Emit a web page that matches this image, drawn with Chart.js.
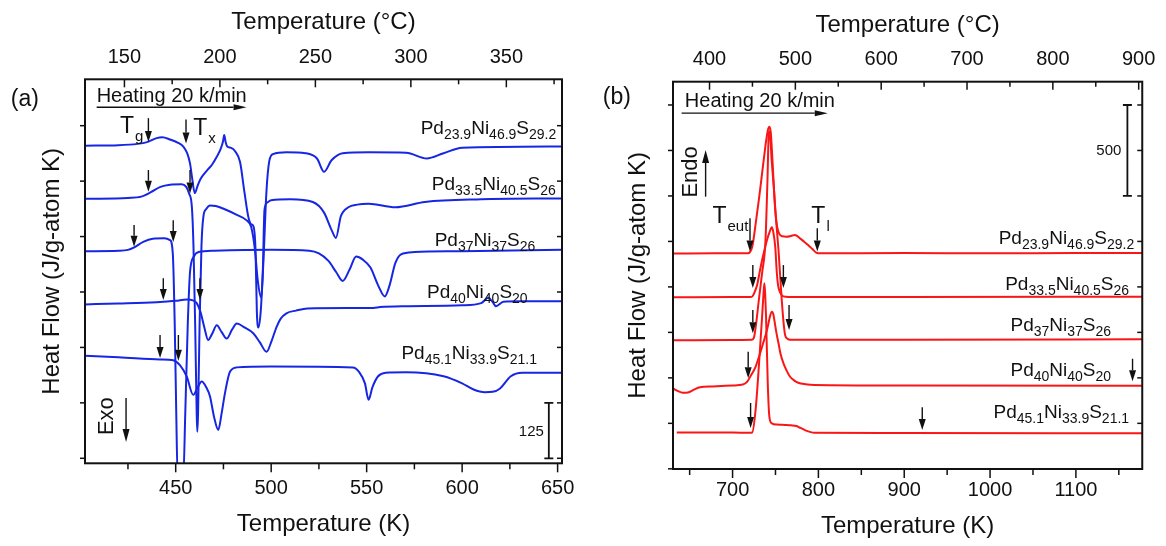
<!DOCTYPE html>
<html>
<meta charset="utf-8">
<style>
	html, body { margin: 0; padding: 0; background: #fff; overflow: hidden; }
	canvas { position: absolute; top: 0; }
	#chartA { left: 0; }
	#chartB { left: 583px; }
</style>
<script src="https://cdn.jsdelivr.net/npm/chart.js"></script>
<body>
<canvas id="chartA" width="600" height="546"></canvas>
<canvas id="chartB" width="583" height="546"></canvas>
<script>

	// ---------- panel (a): DSC traces, 400-650 K (heat flow, J/g-atom K)
	var aK1 = [402.5, 420, 430, 435, 440, 443, 447, 451, 454, 456, 457.5, 458.5, 460, 461.5, 463, 465, 467, 469, 471.5, 473.5, 474.8, 475.4, 476.2, 477, 479, 481, 483.7, 486, 488, 489.5, 490.8, 491.8, 492.5, 493.3, 494.5, 496, 497.5, 499, 501, 508, 518, 524, 527.7, 531.6, 537.5, 551, 570.7, 581.5, 590.3, 600, 652.3];
	var aV1 = [705, 706, 709, 713, 722, 724, 719, 712, 703, 688, 665, 635, 598, 615, 630, 642, 652, 662, 680, 697, 715, 729, 712, 703, 700, 693, 668, 600, 545, 528, 522, 470, 330, 295, 330, 450, 600, 670, 686, 690, 688, 676, 646, 672, 688, 690, 689, 676, 688, 700, 703];

	var aK2 = [402.5, 425, 432, 437, 442, 447, 453, 455.5, 457, 458.5, 459.3, 460.2, 461, 461.3, 461.7, 462.5, 463.5, 464.5, 466, 468, 471, 476, 482, 487, 489.5, 491.5, 493, 494.8, 495.6, 496.5, 498, 500, 510, 521.8, 527.7, 531.6, 533.9, 536.5, 540.4, 545, 551, 565, 580.5, 610, 652.3];
	var aV2 = [585, 587, 590, 600, 612, 617, 618, 612, 597, 565, 480, 300, 100, 60, 100, 300, 480, 545, 562, 570, 569, 561, 549, 537, 522, 470, 400, 362, 420, 560, 577, 582, 584, 578, 554, 515, 497, 546, 566, 572, 574, 566, 578, 584, 586];

	var aK3 = [402.5, 420, 425, 428, 433, 438, 444, 447, 448.5, 449.5, 450.3, 451, 454, 455, 456.3, 457.5, 459.5, 462, 470, 500, 520, 525, 530, 534, 537.5, 541, 544.5, 548, 552, 556, 559.5, 562, 565, 568, 575, 600, 652.3];
	var aV3 = [467, 468, 470, 475, 488, 495, 496, 492, 460, 300, 100, -40, -40, 100, 300, 420, 455, 465, 468, 470, 468, 462, 445, 420, 400, 425, 455, 448, 430, 390, 365, 390, 440, 460, 465, 467, 470];

	var aK4 = [402.5, 420, 440, 450, 455.8, 459, 461, 463, 465, 467, 469, 471.5, 474, 476.7, 479.5, 482, 486, 490.6, 494, 497.6, 500, 502.9, 505, 508, 513, 519, 540, 553.5, 557, 570, 600, 610, 613.8, 616, 617.7, 621.6, 630, 652.3];
	var aV4 = [347, 349, 352, 355, 358, 356, 350, 330, 295, 267, 280, 300, 285, 270, 290, 304, 295, 282, 262, 240, 262, 297, 315, 327, 333, 338, 339, 339, 341, 343, 345, 350, 362, 352, 343, 353, 354, 354];

	var aK5 = [402.5, 420, 441.8, 448.7, 452.2, 455.8, 459.2, 461.5, 463.6, 466, 468, 470, 472.3, 474, 475.8, 478.4, 482, 500, 542.8, 546, 549.1, 551, 553, 556, 560, 570.7, 590.3, 600, 606, 611.8, 616, 619.7, 625.5, 631.4, 652.3];
	var aV5 = [231, 228, 223, 221, 210, 184, 143, 160, 173, 160, 139, 95, 64, 100, 147, 195, 205, 207, 205, 195, 169, 132, 160, 185, 193, 194, 185, 169, 155, 149, 150, 157, 185, 193, 193];

	var aKTicks = [450, 500, 550, 600, 650];
	var aKMinor = [425, 475, 525, 575, 625];
	var aCTicks = [150, 200, 250, 300, 350];
	var aCMinor = [175, 225, 275, 325, 375];
	var aVTicks = [0, 125, 250, 375, 500, 625, 750];

	// ---------- panel (b): DSC traces, 630-1180 K
	var bK1 = [630.6, 680, 718, 720, 723, 727, 730.6, 733.5, 736.3, 739, 741.2, 742.9, 744.5, 746.2, 748, 749.7, 751.6, 754, 758, 763, 768, 772.7, 778.5, 783, 788, 793, 797.5, 800, 900, 1000, 1100, 1177.3];
	var bV1 = [1183, 1185, 1185, 1190, 1222, 1350, 1478, 1590, 1698, 1800, 1863, 1881, 1850, 1720, 1560, 1423, 1340, 1295, 1278, 1276, 1280, 1285, 1267, 1250, 1230, 1208, 1188, 1185, 1186, 1185, 1186, 1186];

	var bK2 = [630.6, 700, 721, 723.5, 726, 728.6, 731.5, 734.4, 737.3, 740.1, 743, 745.8, 747.5, 749.7, 751.6, 753, 754.3, 756.5, 759.3, 765, 900, 1177.3];
	var bV2 = [943, 944, 945, 950, 975, 1010, 1080, 1148, 1205, 1258, 1300, 1328, 1300, 1221, 1075, 1010, 983, 960, 948, 945, 945, 946];

	var bK3 = [630.6, 700, 722, 724.8, 727.5, 730.6, 734.5, 738.3, 740.5, 742.3, 743.3, 745.5, 748, 750.5, 753.5, 757.3, 759.5, 761.2, 764, 767, 900, 1177.3];
	var bV3 = [707, 708, 709, 720, 800, 928, 1080, 1250, 1560, 1850, 1855, 1700, 1550, 1380, 1203, 928, 800, 736, 715, 710, 710, 712];

	var bK4 = [630.6, 636, 642, 648, 655, 662, 677, 700, 712, 717.1, 721, 726.8, 730.5, 734.4, 740.1, 744, 745.8, 747.5, 749, 751, 753.5, 756, 759.3, 763, 767, 772, 776.5, 785, 795.7, 900, 1177.3];
	var bV4 = [442, 428, 418, 420, 435, 448, 453, 458, 463, 479, 510, 561, 612, 671, 763, 845, 864, 850, 809, 750, 690, 630, 580, 540, 506, 485, 473, 465, 461, 458, 456];

	var bK5 = [635, 700, 719, 722.9, 726.8, 730.6, 734.4, 736, 737.1, 738, 739, 741, 742.9, 745.8, 752, 761.2, 768, 774.5, 779, 784.2, 790, 795.7, 900, 1177.3];
	var bV5 = [199, 199, 198, 200, 323, 561, 836, 960, 1020, 960, 836, 470, 286, 250, 243, 241, 239, 235, 225, 213, 203, 198, 197, 195];

	var bKTicks = [700, 800, 900, 1000, 1100];
	var bKMinor = [650, 750, 850, 950, 1050, 1150];
	var bCTicks = [400, 500, 600, 700, 800, 900];
	var bCMinor = [450, 550, 650, 750, 850];
	var bVTicks = [0, 250, 500, 750, 1000, 1250, 1500, 1750, 2000];

	// alloy names: main text and subscripts alternate
	var alloys = [
		['Pd', '23.9', 'Ni', '46.9', 'S', '29.2'],
		['Pd', '33.5', 'Ni', '40.5', 'S', '26'],
		['Pd', '37', 'Ni', '37', 'S', '26'],
		['Pd', '40', 'Ni', '40', 'S', '20'],
		['Pd', '45.1', 'Ni', '33.9', 'S', '21.1']
	];

	// annotation anchors (K, heat flow)
	var aNameK = [649.3, 649, 638.3, 634.3, 639.2];
	var aNameV = [731, 605, 479, 362, 224];
	var aArrowK = [435.7, 455.4, 435.7, 457.5, 428.2, 448.7, 443.5, 462.7, 441.8, 451.4];
	var aArrowTop = [767, 764, 650, 650, 526, 537, 406, 406, 278, 278];
	var aArrowTip = [713, 710, 601, 597, 477, 488, 357, 357, 226, 220];

	var bNameK = [1168, 1162, 1141, 1141, 1162];
	var bNameV = [1236, 984, 758, 510, 281];
	var bArrowK = [720.3, 798.7, 723.6, 759.2, 723.6, 765.8, 718.2, 1166, 721, 921];
	var bArrowTop = [1377, 1322, 1120, 1120, 873, 900, 644, 605, 362, 338];
	var bArrowTip = [1194, 1194, 994, 994, 745, 763, 498, 481, 224, 214];

	var FONT = "'Liberation Sans', Arial, Helvetica, sans-serif";
	var INK = '#111111';

	function arrowV(ctx, x, y0, y1, hl, hw) {
		var d = y1 > y0 ? 1 : -1;
		ctx.beginPath(); ctx.moveTo(x, y0); ctx.lineTo(x, y1 - d * hl); ctx.stroke();
		ctx.beginPath(); ctx.moveTo(x, y1); ctx.lineTo(x - hw / 2, y1 - d * hl); ctx.lineTo(x + hw / 2, y1 - d * hl);
		ctx.closePath(); ctx.fill();
	}
	function arrowH(ctx, x0, x1, y, hl, hw) {
		ctx.beginPath(); ctx.moveTo(x0, y); ctx.lineTo(x1 - hl, y); ctx.stroke();
		ctx.beginPath(); ctx.moveTo(x1, y); ctx.lineTo(x1 - hl, y - hw / 2); ctx.lineTo(x1 - hl, y + hw / 2);
		ctx.closePath(); ctx.fill();
	}
	// right-aligned formula with subscripts
	function chem(ctx, parts, xr, yb) {
		var w = 0, i;
		for (i = 0; i < parts.length; i++) {
			ctx.font = (i % 2 ? '14px ' : '19px ') + FONT;
			w += ctx.measureText(parts[i]).width;
		}
		var x = xr - w;
		for (i = 0; i < parts.length; i++) {
			ctx.font = (i % 2 ? '14px ' : '19px ') + FONT;
			ctx.fillText(parts[i], x, yb + (i % 2 ? 5 : 0));
			x += ctx.measureText(parts[i]).width;
		}
	}
	function tLabel(ctx, sub, x, yb) {
		ctx.font = '23px ' + FONT;
		ctx.fillText('T', x, yb);
		var w = ctx.measureText('T').width;
		ctx.font = '15px ' + FONT;
		ctx.fillText(sub, x + w + 1, yb + 8);
	}

	function notesPlugin(n) {
		return {
			id: 'notes',
			afterDatasetsDraw: function (chart) {
				var ctx = chart.ctx, xs = chart.scales.x, ys = chart.scales.y;
				var X = function (k) { return xs.getPixelForValue(k); };
				var Y = function (v) { return ys.getPixelForValue(v); };
				var i;
				ctx.save();
				ctx.fillStyle = INK; ctx.strokeStyle = INK; ctx.lineWidth = 1.4;

				ctx.font = '23px ' + FONT; ctx.textAlign = 'center'; ctx.textBaseline = 'middle';
				ctx.fillText(n.letter, X(n.letterAt[0]), Y(n.letterAt[1]));

				// rotated Exo / Endo
				ctx.save();
				ctx.translate(X(n.sideAt[0]), Y(n.sideAt[1]));
				ctx.rotate(-Math.PI / 2);
				ctx.font = '22px ' + FONT;
				ctx.fillText(n.side, 0, 0);
				ctx.restore();
				arrowV(ctx, X(n.sideArrow[0]), Y(n.sideArrow[1]), Y(n.sideArrow[2]), 13, 7);

				// scale bar
				var bx = X(n.bar[0]), b0 = Y(n.bar[1]), b1 = Y(n.bar[2]);
				ctx.lineWidth = 1.8;
				ctx.beginPath();
				ctx.moveTo(bx, b0); ctx.lineTo(bx, b1);
				ctx.moveTo(bx - 4.5, b0); ctx.lineTo(bx + 4.5, b0);
				ctx.moveTo(bx - 4.5, b1); ctx.lineTo(bx + 4.5, b1);
				ctx.stroke();
				ctx.lineWidth = 1.4;
				ctx.font = '15px ' + FONT; ctx.textAlign = 'right';
				ctx.fillText(n.barText, X(n.barTextAt[0]), Y(n.barTextAt[1]));

				ctx.textAlign = 'left'; ctx.textBaseline = 'alphabetic';
				ctx.font = '20px ' + FONT;
				ctx.fillText('Heating 20 k/min', X(n.heatAt[0]), Y(n.heatAt[1]));
				arrowH(ctx, X(n.heatArrow[0]), X(n.heatArrow[1]), Y(n.heatArrow[2]), 13, 6);

				n.tLabels.forEach(function (t) { tLabel(ctx, t[0], X(t[1]), Y(t[2])); });

				for (i = 0; i < n.arrowK.length; i++) {
					arrowV(ctx, X(n.arrowK[i]), Y(n.arrowTop[i]), Y(n.arrowTip[i]), 11, 7);
				}
				for (i = 0; i < alloys.length; i++) {
					chem(ctx, alloys[i], X(n.nameK[i]), Y(n.nameV[i]));
				}
				ctx.restore();
			}
		};
	}

	function framePlugin(p) {
		return {
			id: 'frame',
			afterDraw: function (chart) {
				var ctx = chart.ctx, a = chart.chartArea;
				var xs = chart.scales.x, cs = chart.scales.c, ys = chart.scales.y;
				function seg(x1, y1, x2, y2) { ctx.beginPath(); ctx.moveTo(x1, y1); ctx.lineTo(x2, y2); ctx.stroke(); }
				ctx.save();
				ctx.strokeStyle = INK;
				ctx.lineWidth = 2;
				ctx.strokeRect(a.left, a.top, a.right - a.left, a.bottom - a.top);
				ctx.lineWidth = 1.5;
				p.kTicks.forEach(function (k) { var x = xs.getPixelForValue(k); seg(x, a.bottom, x, a.bottom + 9); });
				p.kMinor.forEach(function (k) { var x = xs.getPixelForValue(k); seg(x, a.bottom, x, a.bottom + 6); });
				p.cTicks.forEach(function (c) { var x = cs.getPixelForValue(c); seg(x, a.top, x, a.top + 8); });
				p.cMinor.forEach(function (c) { var x = cs.getPixelForValue(c); seg(x, a.top, x, a.top + 5); });
				p.vTicks.forEach(function (v) {
					var y = ys.getPixelForValue(v);
					seg(a.left - 5, y, a.left, y);
					seg(a.right - 5, y, a.right, y);
				});
				ctx.restore();
			}
		};
	}

	function fixTicks(vals) {
		return function (s) { s.ticks = vals.map(function (v) { return { value: v }; }); };
	}

	function panel(id, p) {
		var datasets = p.curves.map(function (c) {
			return {
				data: c[0].map(function (k, i) { return { x: k, y: c[1][i] }; }),
				borderColor: p.color,
				borderWidth: 2,
				pointRadius: 0,
				cubicInterpolationMode: 'monotone',
				fill: false,
				clip: 0
			};
		});
		var tickFont = { family: FONT, size: 20 };
		var titleFont = { family: FONT, size: 24 };
		return new Chart(document.getElementById(id), {
			type: 'line',
			data: { datasets: datasets },
			options: {
				responsive: false,
				animation: false,
				events: [],
				layout: { padding: { left: 0, right: p.padRight, top: 0, bottom: 0 } },
				plugins: { legend: { display: false }, tooltip: { enabled: false } },
				scales: {
					x: {
						type: 'linear', position: 'bottom', min: p.kMin, max: p.kMax,
						afterBuildTicks: fixTicks(p.kTicks),
						afterFit: function (s) { s.height = p.bottomH; },
						grid: { display: false, drawTicks: false },
						border: { display: false },
						ticks: { font: tickFont, color: INK, padding: p.bottomPad, maxRotation: 0, callback: function (v) { return String(v); } },
						title: { display: true, text: 'Temperature (K)', font: titleFont, color: INK, padding: { top: 0, bottom: p.bottomTitlePad } }
					},
					c: {
						type: 'linear', position: 'top', min: p.kMin - 273.15, max: p.kMax - 273.15,
						afterBuildTicks: fixTicks(p.cTicks),
						afterFit: function (s) { s.height = p.topH; },
						grid: { display: false, drawTicks: false },
						border: { display: false },
						ticks: { font: tickFont, color: INK, padding: p.topPad, maxRotation: 0, callback: function (v) { return String(v); } },
						title: { display: true, text: 'Temperature (\u00B0C)', font: titleFont, color: INK, padding: { top: p.topTitlePad, bottom: 0 } }
					},
					y: {
						type: 'linear', position: 'left', min: p.vMin, max: p.vMax,
						afterBuildTicks: fixTicks(p.vTicks),
						afterFit: function (s) { s.width = p.leftW; },
						grid: { display: false, drawTicks: false },
						border: { display: false },
						ticks: { display: false },
						title: { display: true, text: 'Heat Flow (J/g-atom K)', font: titleFont, color: INK, padding: { top: p.leftTitlePad, bottom: 0 } }
					}
				}
			},
			plugins: [notesPlugin(p.notes), framePlugin(p)]
		});
	}

	window.onload = function () {

		panel('chartA', {
			color: 'rgb(22, 38, 226)',
			curves: [[aK1, aV1], [aK2, aV2], [aK3, aV3], [aK4, aV4], [aK5, aV5]],
			kMin: 402.5, kMax: 652.3, vMin: -11.3, vMax: 854.6,
			kTicks: aKTicks, kMinor: aKMinor, cTicks: aCTicks, cMinor: aCMinor, vTicks: aVTicks,
			padRight: 38, leftW: 85, topH: 79.3, bottomH: 82.7,
			bottomPad: 13.5, topPad: 10, bottomTitlePad: 7.5, topTitlePad: 8, leftTitlePad: 37.5,
			notes: {
				letter: '(a)', letterAt: [371, 808],
				side: 'Exo', sideAt: [414.2, 95], sideArrow: [424, 136, 37],
				bar: [645.4, 0, 125], barText: '125', barTextAt: [642.8, 60],
				heatAt: [408.6, 804], heatArrow: [408.6, 487.1, 791.5],
				tLabels: [['g', 420.8, 733], ['x', 459.2, 729]],
				arrowK: aArrowK, arrowTop: aArrowTop, arrowTip: aArrowTip,
				nameK: aNameK, nameV: aNameV
			}
		});

		panel('chartB', {
			color: 'rgb(250, 22, 22)',
			curves: [[bK1, bV1], [bK2, bV2], [bK3, bV3], [bK4, bV4], [bK5, bV5]],
			kMin: 630.6, kMax: 1177.3, vMin: -1, vMax: 2128,
			kTicks: bKTicks, kMinor: bKMinor, cTicks: bCTicks, cMinor: bCMinor, vTicks: bVTicks,
			padRight: 17, leftW: 90, topH: 81.7, bottomH: 77,
			bottomPad: 9, topPad: 10.5, bottomTitlePad: 5.5, topTitlePad: 10.5, leftTitlePad: 40.5,
			notes: {
				letter: '(b)', letterAt: [565.2, 2039],
				side: 'Endo', sideAt: [651.3, 1632], sideArrow: [668.6, 1496, 1753],
				bar: [1160, 1500, 2000], barText: '500', barTextAt: [1153, 1750],
				heatAt: [644.4, 1991], heatArrow: [640.6, 810.9, 1955],
				tLabels: [['eut', 676.6, 1351], ['l', 791.8, 1351]],
				arrowK: bArrowK, arrowTop: bArrowTop, arrowTip: bArrowTip,
				nameK: bNameK, nameV: bNameV
			}
		});
	};

</script>
</body>
</html>
